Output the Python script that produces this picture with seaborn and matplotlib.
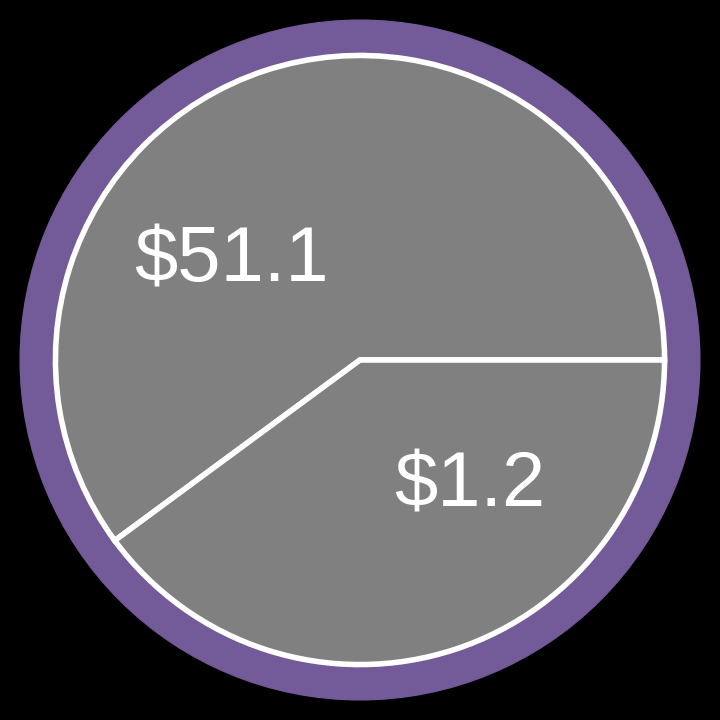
import matplotlib
matplotlib.use("Agg")
import matplotlib.pyplot as plt
import seaborn as sns
from matplotlib.patches import Circle

# wedge shares as drawn in the picture, and the labels printed on them
shares = [60.1, 39.9]
labels = ["$51.1", "$1.2"]

sns.set_style("white")
plt.rcParams["font.family"] = ["Liberation Sans", "DejaVu Sans"]

fig = plt.figure(figsize=(7.2, 7.2), dpi=100, facecolor="black")
ax = fig.add_axes([0, 0, 1, 1])
ax.set_facecolor("black")

purple = "#735a98"
grey = "#808080"

ax.add_patch(Circle((0, 0), 0.944, color=purple, zorder=0))

wedges, _ = ax.pie(shares, colors=[grey, grey], startangle=0, counterclock=True,
                   radius=0.846,
                   wedgeprops=dict(edgecolor="white", linewidth=4, joinstyle="miter"))

label_pos = [(-0.358, 0.217), (0.306, -0.408)]
for (x, y), lab in zip(label_pos, labels):
    ax.text(x, y, lab, color="white", fontsize=56, ha="center", va="baseline")

ax.set_xlim(-1, 1)
ax.set_ylim(-1, 1)
ax.set_aspect("equal")
ax.axis("off")

fig.savefig("out.png", dpi=100, facecolor="black")
